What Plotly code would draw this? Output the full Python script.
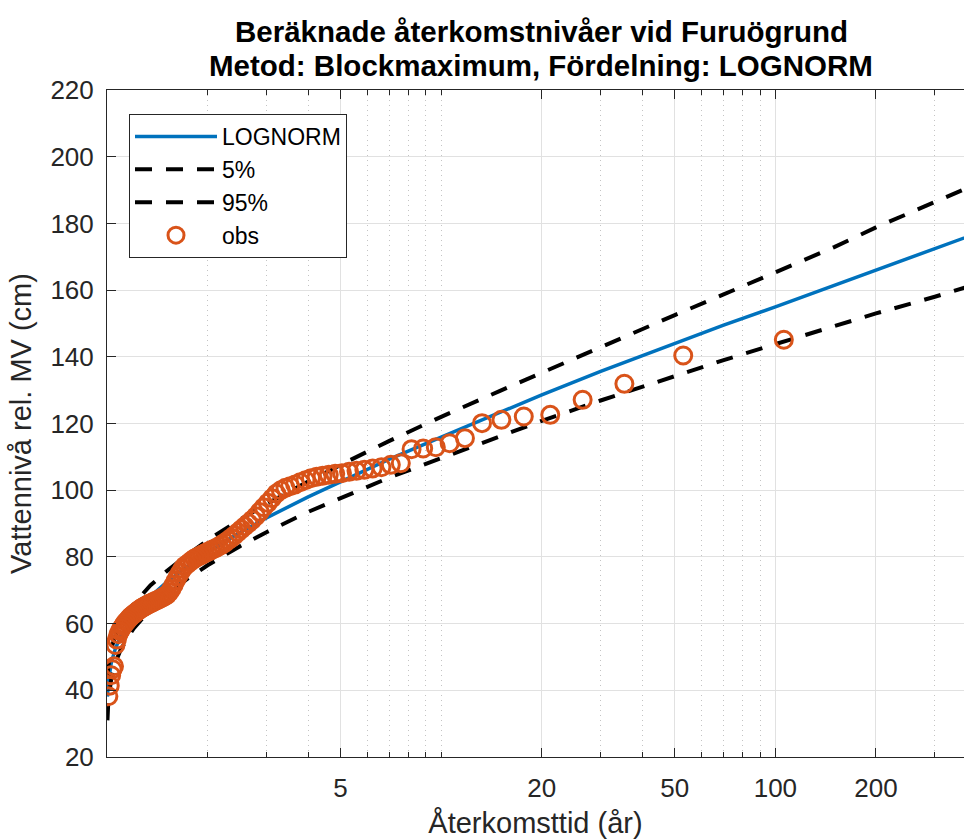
import numpy as np
import plotly.graph_objects as go

# Return periods (years) at which the fitted curve and its confidence bounds are drawn
curve_T = [1.003, 1.01, 1.03, 1.06, 1.1, 1.2, 1.35, 1.5, 1.75, 2, 2.5, 3, 4, 5, 7,
           10, 15, 20, 30, 50, 70, 100, 150, 200, 300, 400]
# LOGNORM return levels (cm)
lognorm_level = [38.1, 42.8, 48.3, 52.6, 56.3, 62.3, 68.1, 72.2, 77.4, 81.4, 87.3, 91.7,
                 98.0, 102.6, 109.3, 115.9, 123.4, 128.6, 135.6, 144.0, 149.5, 155.0,
                 161.5, 166.0, 172.6, 177.0]
# Lower (5%) and upper (95%) confidence bounds (cm)
lower_5 = [31.0, 37.5, 43.5, 48.3, 52.3, 58.5, 64.3, 68.5, 73.6, 77.5, 83.2, 87.4,
           93.5, 97.6, 103.8, 109.6, 116.3, 120.8, 126.9, 134.3, 139.0, 143.8,
           149.3, 153.0, 158.0, 161.8]
upper_95 = [44.0, 47.5, 52.5, 56.5, 60.0, 65.8, 71.5, 75.5, 80.8, 85.0, 91.2, 95.9,
            102.6, 107.6, 114.8, 122.0, 129.8, 135.3, 142.9, 152.5, 158.7, 165.4,
            172.9, 178.8, 186.3, 191.8]

# Observed annual maxima (cm), sorted from highest to lowest
obs_level = [
    145.1, 140.4, 131.9, 127.1, 122.6, 122.1, 121.1, 120.1, 115.6, 114.1,
    112.9, 112.5, 112.3, 108.1, 107.6, 106.9, 106.5, 106.1, 105.8, 105.5,
    105.1, 104.9, 104.6, 104.3, 104.0, 103.6, 103.0, 102.4, 101.7, 101.2,
    100.7, 100.0, 99.0, 97.6, 96.2, 94.9, 93.5, 92.2, 91.1, 90.1,
    89.2, 88.3, 87.4, 86.5, 85.7, 85.0, 84.3, 83.7, 83.2, 82.7,
    82.3, 81.9, 81.5, 81.1, 80.7, 80.3, 79.9, 79.5, 79.0, 78.4,
    77.8, 77.3, 76.4, 75.3, 74.1, 72.9, 71.6, 70.4, 69.4, 68.7,
    68.3, 67.9, 67.6, 67.3, 67.0, 66.8, 66.5, 66.2, 66.0, 65.7,
    65.4, 65.1, 64.8, 64.5, 64.1, 63.7, 63.3, 62.9, 62.5, 62.1,
    61.6, 61.0, 60.5, 59.9, 59.2, 58.5, 57.7, 56.8, 55.2, 53.6,
    47.2, 46.3, 44.5, 41.4, 38.2,
]
# Weibull plotting position: T = (n + 1) / rank
n_obs = len(obs_level)
obs_T = [(n_obs + 1) / rank for rank in range(1, n_obs + 1)]

x_tick_vals = [5, 20, 50, 100, 200]
x_tick_text = ["5", "20", "50", "100", "200"]
x_minor_vals = [2, 3, 4, 6, 7, 8, 9, 10, 30, 40, 60, 70, 80, 90, 300]
y_tick_vals = list(range(20, 221, 20))

FONT = "Liberation Sans, Arial, Helvetica, sans-serif"
AX = "#262626"

fig = go.Figure()
fig.add_trace(go.Scatter(x=curve_T, y=lognorm_level, mode="lines", name="LOGNORM",
                         line=dict(color="#0072BD", width=3.5)))
fig.add_trace(go.Scatter(x=curve_T, y=lower_5, mode="lines", name="5%",
                         line=dict(color="black", width=4, dash="17px,14px")))
fig.add_trace(go.Scatter(x=curve_T, y=upper_95, mode="lines", name="95%",
                         line=dict(color="black", width=4, dash="17px,14px")))
fig.add_trace(go.Scatter(x=obs_T, y=obs_level, mode="markers", name="obs",
                         marker=dict(symbol="circle-open", size=17, color="#D95319",
                                     line=dict(color="#D95319", width=3))))

plot_left, plot_top, plot_bottom, W, H = 107, 90, 757, 964, 839
x_right_T = 10 ** ((W - 106.2) / 334.5)

fig.update_xaxes(
    type="log", range=[0, np.log10(x_right_T)],
    tickvals=x_tick_vals, ticktext=x_tick_text,
    ticks="inside", ticklen=9, tickwidth=1, tickcolor=AX,
    showline=True, linecolor=AX, linewidth=1, mirror="ticks",
    showgrid=True, gridcolor="#e1e1e1", gridwidth=1,
    minor=dict(tickvals=x_minor_vals, ticks="inside", ticklen=5, tickcolor=AX,
               showgrid=True, gridcolor="#c4c4c4", gridwidth=1, griddash="1px,4px"),
    tickfont=dict(family=FONT, size=26, color=AX),
    ticklabelstandoff=8,
    title=dict(text="Återkomsttid (år)", font=dict(family=FONT, size=29, color=AX), standoff=14),
    zeroline=False,
)
fig.update_yaxes(
    range=[20, 220], tickvals=y_tick_vals,
    ticks="inside", ticklen=9, tickwidth=1, tickcolor=AX,
    showline=True, linecolor=AX, linewidth=1, mirror=False,
    showgrid=True, gridcolor="#e1e1e1", gridwidth=1,
    tickfont=dict(family=FONT, size=26, color=AX),
    ticklabelstandoff=7,
    title=dict(text="Vattennivå rel. MV (cm)", font=dict(family=FONT, size=29, color=AX), standoff=10),
    zeroline=False,
)

pw = W - plot_left
ph = plot_bottom - plot_top
def px_x(x):
    return (x - plot_left) / pw
def px_y(y):
    return (plot_bottom - y) / ph

fig.add_annotation(text="<b>Beräknade återkomstnivåer vid Furuögrund</b>",
                   x=px_x(541), y=px_y(31), xref="paper", yref="paper",
                   showarrow=False, xanchor="center", yanchor="middle",
                   font=dict(family=FONT, size=29.5, color="black"))
fig.add_annotation(text="<b>Metod: Blockmaximum, Fördelning: LOGNORM</b>",
                   x=px_x(541), y=px_y(66), xref="paper", yref="paper",
                   showarrow=False, xanchor="center", yanchor="middle",
                   font=dict(family=FONT, size=29.5, color="black"))

fig.update_layout(
    width=W, height=H,
    margin=dict(l=plot_left, r=0, t=plot_top, b=H - plot_bottom, pad=0),
    plot_bgcolor="white", paper_bgcolor="white",
    font=dict(family=FONT, color=AX),
    legend=dict(x=px_x(129), y=px_y(114), xanchor="left", yanchor="top",
                bgcolor="white", bordercolor=AX, borderwidth=1,
                font=dict(family=FONT, size=23, color="black"),
                itemwidth=82, tracegroupgap=0),
    showlegend=True,
)

fig.write_html("out.html")
